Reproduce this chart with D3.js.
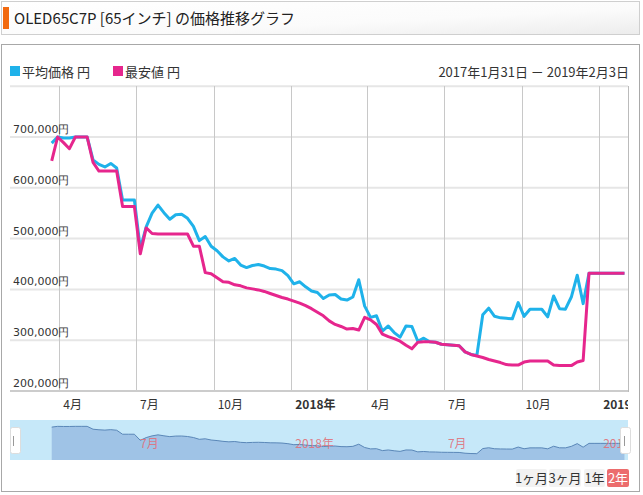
<!DOCTYPE html>
<html><head><meta charset="utf-8">
<script src="https://cdn.jsdelivr.net/npm/d3@7"></script>
<style>body{margin:0;background:#fff} svg{display:block}</style>
</head><body><svg id="c" width="643" height="495"></svg>
<script>
const titleText = "OLED65C7P [65インチ] の価格推移グラフ";
const seriesNames = ["平均価格 円", "最安値 円"];
const rangeText = "2017年1月31日 － 2019年2月3日";
const dates = [
"2017-03-23","2017-03-30","2017-04-06","2017-04-13","2017-04-20","2017-04-27","2017-05-04","2017-05-11","2017-05-18","2017-05-25",
"2017-06-01","2017-06-08","2017-06-15","2017-06-22","2017-06-29","2017-07-06","2017-07-13","2017-07-20","2017-07-27","2017-08-03",
"2017-08-10","2017-08-17","2017-08-24","2017-08-31","2017-09-07","2017-09-14","2017-09-21","2017-09-28","2017-10-05","2017-10-12",
"2017-10-19","2017-10-26","2017-11-02","2017-11-09","2017-11-16","2017-11-23","2017-11-30","2017-12-07","2017-12-14","2017-12-21",
"2017-12-28","2018-01-04","2018-01-11","2018-01-18","2018-01-25","2018-02-01","2018-02-08","2018-02-15","2018-02-22","2018-03-01",
"2018-03-08","2018-03-15","2018-03-22","2018-03-29","2018-04-05","2018-04-12","2018-04-19","2018-04-26","2018-05-03","2018-05-10",
"2018-05-17","2018-05-24","2018-05-31","2018-06-07","2018-06-14","2018-06-21","2018-06-28","2018-07-05","2018-07-12","2018-07-19",
"2018-07-26","2018-08-02","2018-08-09","2018-08-16","2018-08-23","2018-08-30","2018-09-06","2018-09-13","2018-09-20","2018-09-27",
"2018-10-04","2018-10-11","2018-10-18","2018-10-25","2018-11-01","2018-11-08","2018-11-15","2018-11-22","2018-11-29","2018-12-06",
"2018-12-13","2018-12-20","2018-12-27","2019-01-03","2019-01-10","2019-01-17","2019-01-24","2019-01-31"];
const avgPrice = [
688000,700000,698000,698000,700000,700000,700000,655000,646000,641000,
648000,639000,576000,576000,576000,480000,523000,550000,566000,551000,
538000,547000,548000,540000,524000,496000,504000,485000,476000,464000,
456000,461000,448000,443000,447000,449000,446000,441000,440000,437000,
427000,411000,415000,405000,397000,394000,382000,389000,390000,381000,
379000,385000,419000,367000,345000,348000,318000,328000,315000,306000,
328000,327000,298000,304000,297000,296000,292000,291000,290000,289000,
277000,272000,270000,350000,363000,347000,344000,343000,342000,374000,
347000,361000,361000,361000,346000,387000,362000,361000,385000,428000,
372000,432000,432000,432000,432000,432000,432000,432000];
const minPrice = [
653000,700000,689000,677000,700000,700000,700000,650000,633000,633000,
633000,633000,563000,563000,563000,470000,521000,510000,509000,509000,
509000,509000,509000,509000,485000,485000,433000,431000,423000,415000,
414000,409000,407000,403000,401000,399000,396000,392000,388000,384000,
381000,377000,373000,368000,362000,355000,348000,338000,331000,327000,
322000,323000,320000,345000,340000,331000,312000,307000,303000,298000,
290000,283000,296000,297000,297000,296000,292000,291000,290000,289000,
277000,272000,269000,266000,262000,259000,256000,252000,251000,251000,
257000,259000,259000,259000,259000,251000,250000,250000,250000,257000,
260000,432000,432000,432000,432000,432000,432000,432000];
const yTicks = [200000,300000,400000,500000,600000,700000,800000];
const yLabelTicks = [200000,300000,400000,500000,600000,700000];
const xTicks = ["2017-04-01","2017-07-01","2017-10-01","2018-01-01","2018-04-01","2018-07-01","2018-10-01","2019-01-01"];
const xTickLabels = ["4月","7月","10月","2018年","4月","7月","10月","2019年"];
const navTicks = ["2017-07-01","2018-01-01","2018-07-01","2019-01-01"];
const navTickLabels = ["7月","2018年","7月","2019年"];
const buttons = ["1ヶ月","3ヶ月","1年","2年"];
const domainStart = "2017-01-31", domainEnd = "2019-02-03";

const parse = d3.utcParse("%Y-%m-%d");
const svg = d3.select("#c");
const FONT = "'Noto Sans CJK JP', 'Noto Sans', sans-serif";
const BLUE = "#1fb2ea", PINK = "#e6268d";

// title
const defs = svg.append("defs");
const g1 = defs.append("linearGradient").attr("id","tg").attr("x1",0).attr("y1",0).attr("x2",1).attr("y2",1);
g1.append("stop").attr("offset","0").attr("stop-color","#ffffff");
g1.append("stop").attr("offset","0.6").attr("stop-color","#fbfbfb");
g1.append("stop").attr("offset","1").attr("stop-color","#ececec");
svg.append("rect").attr("x",1.5).attr("y",1.5).attr("width",638).attr("height",33)
  .attr("fill","url(#tg)").attr("stroke","#cfcfcf");
svg.append("rect").attr("x",3).attr("y",7).attr("width",6).attr("height",22).attr("fill","#f26a10");
svg.append("text").attr("x",14).attr("y",24).attr("font-family",FONT).attr("font-size",15)
  .attr("fill","#222").text(titleText);

// chart frame
svg.append("rect").attr("x",1.5).attr("y",44.5).attr("width",638).attr("height",447)
  .attr("fill","#fff").attr("stroke","#a8a8a8");

// legend
const leg = [{n:seriesNames[0],c:BLUE,x:10},{n:seriesNames[1],c:PINK,x:113}];
leg.forEach(l=>{
  svg.append("rect").attr("x",l.x).attr("y",66).attr("width",10).attr("height",10).attr("fill",l.c);
  svg.append("text").attr("x",l.x+12).attr("y",77).attr("font-family",FONT).attr("font-size",13)
    .attr("fill","#333").text(l.n);
});
svg.append("text").attr("x",629).attr("y",77).attr("text-anchor","end").attr("font-family",FONT)
  .attr("font-size",13).attr("fill","#333").text(rangeText);

// scales
const x = d3.scaleUtc().domain([parse(domainStart), parse(domainEnd)]).range([8.7, 627]);
const y = d3.scaleLinear().domain([200000, 800000]).range([391, 86.2]);
const L = 10, R = 628;

defs.append("clipPath").attr("id","pc").append("rect").attr("x",L).attr("y",40).attr("width",R-L).attr("height",440);

// horizontal grid
svg.append("g").selectAll("line").data(yTicks.filter(v=>v>200000)).join("line")
  .attr("x1",L).attr("x2",R).attr("y1",d=>y(d)).attr("y2",d=>y(d))
  .attr("stroke","#e6e6e6").attr("stroke-width",2);
// vertical grid
svg.append("g").selectAll("line").data(xTicks).join("line")
  .attr("x1",d=>Math.round(x(parse(d)))+0.5).attr("x2",d=>Math.round(x(parse(d)))+0.5)
  .attr("y1",86).attr("y2",391).attr("stroke","#c8c8c8").attr("stroke-width",1);
// bottom axis line
svg.append("line").attr("x1",L).attr("x2",R).attr("y1",391).attr("y2",391)
  .attr("stroke","#cccccc").attr("stroke-width",2);
// right edge line
svg.append("line").attr("x1",R+0.5).attr("x2",R+0.5).attr("y1",86).attr("y2",392)
  .attr("stroke","#bbbbbb").attr("stroke-width",1);

// y labels
svg.append("g").selectAll("text").data(yLabelTicks).join("text")
  .attr("x",13).attr("y",d=>y(d)-4).attr("font-family","'DejaVu Sans', Verdana, sans-serif")
  .attr("font-size",11).attr("fill","#333").text(d=>d3.format(",")(d)+"円");

// lines
const pts = (vals)=>vals.map((v,i)=>[parse(dates[i]), v]);
const line = d3.line().x(d=>x(d[0])).y(d=>y(d[1]));
const lg = svg.append("g").attr("clip-path","url(#pc)");
lg.append("path").attr("d",line(pts(avgPrice))).attr("fill","none").attr("stroke",BLUE)
  .attr("stroke-width",3).attr("stroke-linejoin","round");
lg.append("path").attr("d",line(pts(minPrice))).attr("fill","none").attr("stroke",PINK)
  .attr("stroke-width",3).attr("stroke-linejoin","round");

// x labels (left-aligned just right of the tick)
const xl = svg.append("g").attr("clip-path","url(#pc)");
xl.selectAll("text").data(xTicks).join("text")
  .attr("x",d=>x(parse(d))+4).attr("y",409).attr("text-anchor","start")
  .attr("font-family",FONT).attr("font-size",12).attr("fill","#333")
  .attr("font-weight",(d,i)=>xTickLabels[i].includes("年")?"bold":"normal")
  .text((d,i)=>xTickLabels[i]);

// navigator
const ny = d3.scaleLinear().domain([170000, 800000]).range([460, 420]);
const nav = svg.append("g");
nav.append("rect").attr("x",L).attr("y",420).attr("width",R-L).attr("height",40).attr("fill","#c6e8f9");
const area = d3.area().x(d=>x(d[0])).y0(460).y1(d=>ny(d[1]));
nav.append("path").attr("d",area(pts(avgPrice))).attr("fill","#9fc3e6");
nav.append("path").attr("d",d3.line().x(d=>x(d[0])).y(d=>ny(d[1]))(pts(avgPrice)))
  .attr("fill","none").attr("stroke","#5a87b8").attr("stroke-width",1);
nav.append("g").attr("clip-path","url(#pc)").selectAll("text").data(navTicks).join("text")
  .attr("x",d=>x(parse(d))+4).attr("y",448).attr("font-family",FONT).attr("font-size",12)
  .attr("fill","#e0707a").attr("fill-opacity",0.9).text((d,i)=>navTickLabels[i]);
// handles
[[10,13],[620,624]].forEach(([hx,lx])=>{
  nav.append("rect").attr("x",hx+0.5).attr("y",427.5).attr("width",10).attr("height",26).attr("rx",2)
    .attr("fill","#fff").attr("stroke","#dddddd");
  nav.append("line").attr("x1",lx+0.5).attr("x2",lx+0.5).attr("y1",436).attr("y2",446).attr("stroke","#999");
});

// range buttons
const bx = [516, 549, 584, 607], bw = [31, 32, 21, 22];
buttons.forEach((b,i)=>{
  const sel = i===3;
  svg.append("rect").attr("x",bx[i]).attr("y",469).attr("width",bw[i]).attr("height",18).attr("rx",2)
    .attr("fill", sel ? "#ec6d6d" : "#f2f2f2");
  svg.append("text").attr("x",bx[i]+bw[i]/2).attr("y",483).attr("text-anchor","middle")
    .attr("font-family",FONT).attr("font-size",13).attr("fill", sel ? "#fff" : "#333").text(b);
});
</script></body></html>
